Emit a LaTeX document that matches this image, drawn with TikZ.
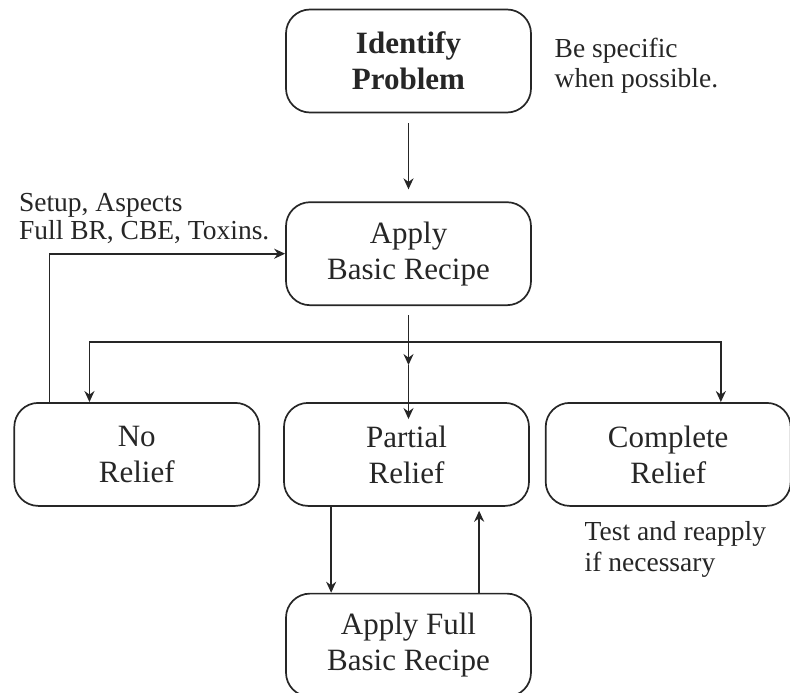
\documentclass[tikz,border=0pt]{standalone}
\usepackage{fontspec}
\setmainfont{Liberation Serif}
\usepackage{tikz}
\usetikzlibrary{positioning,arrows.meta,calc}

\begin{document}
\begin{tikzpicture}[x=1pt,y=1pt,line width=1.7pt,color=black!85,
  >={Stealth[length=11pt,width=10pt]},
  box/.style={draw,rounded corners=24pt,minimum width=245pt,minimum height=103pt,
    align=center,font=\fontsize{31}{36}\selectfont},
  note/.style={inner sep=0pt,align=left,font=\fontsize{27.5}{30}\selectfont}]

  \useasboundingbox (0,0) rectangle (790,-693);

  \node[box,font=\fontsize{31}{36}\selectfont\bfseries] (ident) at (408.5,-61) {Identify\\Problem};
  \node[box] (apply) [below=88pt of ident] {Apply\\Basic Recipe};
  \node[box] (partial) [below=96pt of apply,xshift=-2pt] {Partial\\Relief};
  \node[box] (none) [left=23pt of partial] {No\\Relief};
  \node[box] (complete) [right=15pt of partial] {Complete\\Relief};
  \node[box] (full) [below=86pt of partial,xshift=2pt] {Apply Full\\Basic Recipe};

  \node[note] (n0) [right=22pt of ident,yshift=-5pt] {Be specific\\when possible.};
  \node[note,font=\fontsize{27.5}{28}\selectfont] (n1) [above left=9pt and 15pt of apply.west] {Setup, Aspects\\Full BR, CBE, Toxins.};
  \node[note,font=\fontsize{27.5}{31}\selectfont] (n2) [below right=14pt and 39pt of complete.south west] {Test and reapply\\if necessary};

  \coordinate (fork) at ($(apply.south)+(0,-36pt)$);
  \coordinate (mid) at ($(apply.south)+(0,-59pt)$);
  \coordinate (pdown) at ($(partial.south west)+(48pt,0)$);
  \coordinate (fup) at ($(full.north west)+(194pt,0)$);
  \coordinate (back) at ($(none.north west)+(36pt,0)$);

  \path[->] (ident) edge[shorten <=10pt,shorten >=12pt] (apply);
  \draw[->,shorten <=9pt] (apply.south) -- (mid);
  \draw[->] (mid) -- ($(mid |- partial.north)+(0,-17pt)$);
  \draw[->] (fork) -| ($(none.north west)+(76pt,0)$);
  \draw[->] (fork) -| ($(complete.north west)+(176pt,0)$);
  \draw[->] (back) |- (apply.west);
  \draw[->] (pdown) -- (pdown |- full.north);
  \draw[->,shorten >=4pt] (fup) -- (fup |- partial.south);

\end{tikzpicture}
\end{document}
